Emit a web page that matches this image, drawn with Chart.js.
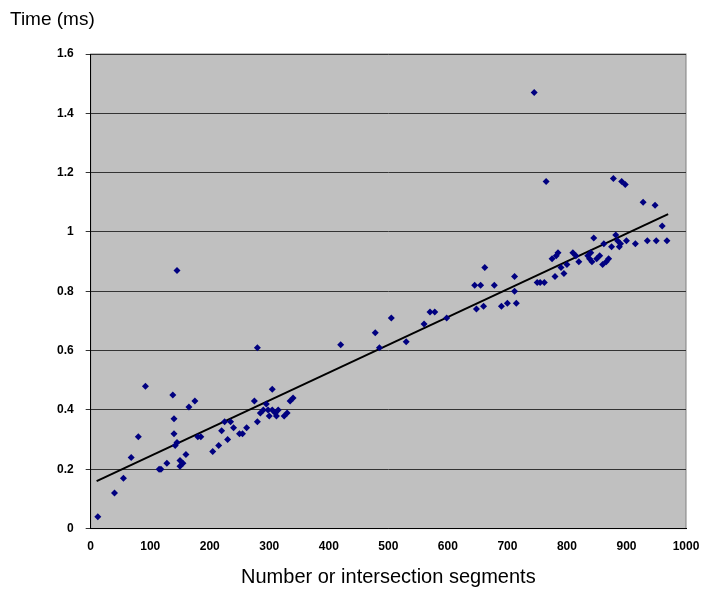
<!DOCTYPE html>
<html><head><script src="https://cdn.jsdelivr.net/npm/chart.js@4"></script>
<style>body{margin:0;background:#fff}#w{width:721px;height:595px}</style></head>
<body><div id="w"><canvas id="c"></canvas></div>
<script>
const xs=[12,40,55,68,80,92,115,118,128,138,140,140,142,145,145,150,150,155,160,165,175,180,185,205,215,220,225,230,235,240,250,255,262,275,280,280,285,290,295,298,300,305,305,310,312,315,325,330,335,340,420,478,485,505,530,560,570,578,598,645,648,655,660,662,678,690,700,712,712,715,745,750,755,762,765,775,780,782,785,790,795,800,810,815,820,835,838,840,842,845,850,855,860,862,866,870,875,878,882,885,888,892,898,890,900,915,928,935,948,950,960,968];
const ys=[0.04,0.12,0.17,0.24,0.31,0.48,0.2,0.2,0.22,0.45,0.37,0.32,0.28,0.87,0.29,0.23,0.21,0.22,0.25,0.41,0.43,0.31,0.31,0.26,0.28,0.33,0.36,0.30,0.36,0.34,0.32,0.32,0.34,0.43,0.61,0.36,0.39,0.40,0.42,0.40,0.38,0.47,0.40,0.39,0.38,0.40,0.38,0.39,0.43,0.44,0.62,0.66,0.61,0.71,0.63,0.69,0.73,0.73,0.71,0.82,0.74,0.82,0.75,0.88,0.82,0.75,0.76,0.85,0.80,0.76,1.47,0.83,0.83,0.83,1.17,0.91,0.85,0.92,0.93,0.88,0.86,0.89,0.93,0.92,0.90,0.92,0.91,0.93,0.90,0.98,0.91,0.92,0.89,0.96,0.90,0.91,0.95,1.18,0.99,0.97,0.95,1.17,1.16,0.96,0.97,0.96,1.10,0.97,1.09,0.97,1.02,0.97];
const trendX=[10,970], trendY=[0.16,1.06];
const yTitle='Time (ms)';
const bg={id:'bg',beforeDraw(c){const a=c.chartArea,g=c.ctx;g.save();g.fillStyle='#c0c0c0';g.fillRect(a.left,a.top,a.right-a.left,a.bottom-a.top);g.strokeStyle='#808080';g.strokeRect(a.left,a.top,a.right-a.left,a.bottom-a.top);g.restore();},
afterDraw(c){const g=c.ctx;g.save();g.fillStyle='#000';g.font='19px "Liberation Sans"';g.textBaseline='top';g.fillText(yTitle,10,10);g.restore();}};
new Chart(document.getElementById('c'),{type:'scatter',plugins:[bg],
data:{datasets:[
{data:xs.map((x,i)=>({x,y:ys[i]})),pointStyle:'rectRot',radius:3.5,backgroundColor:'#000080',borderColor:'#000080',borderWidth:0},
{type:'line',data:trendX.map((x,i)=>({x,y:trendY[i]})),borderColor:'#000',borderWidth:2,pointRadius:0,fill:false}
]},
options:{animation:false,responsive:true,maintainAspectRatio:false,
layout:{padding:{left:45,right:35,top:54,bottom:3}},
plugins:{legend:{display:false},tooltip:{enabled:false}},
scales:{
x:{type:'linear',min:0,max:1000,ticks:{stepSize:100,color:'#000',font:{family:'Liberation Sans',size:12,weight:'bold'},callback:v=>String(v)},grid:{display:false},border:{color:'#000'},
title:{display:true,text:'Number or intersection segments',color:'#000',font:{family:'Liberation Sans',size:20},padding:{top:8,bottom:3}}},
y:{min:0,max:1.6,ticks:{stepSize:0.2,color:'#000',padding:12,font:{family:'Liberation Sans',size:12,weight:'bold'},callback:v=>String(Math.round(v*10)/10)},grid:{color:'#333',drawTicks:true,tickLength:5},border:{color:'#000'}}
}}});
</script></body></html>
